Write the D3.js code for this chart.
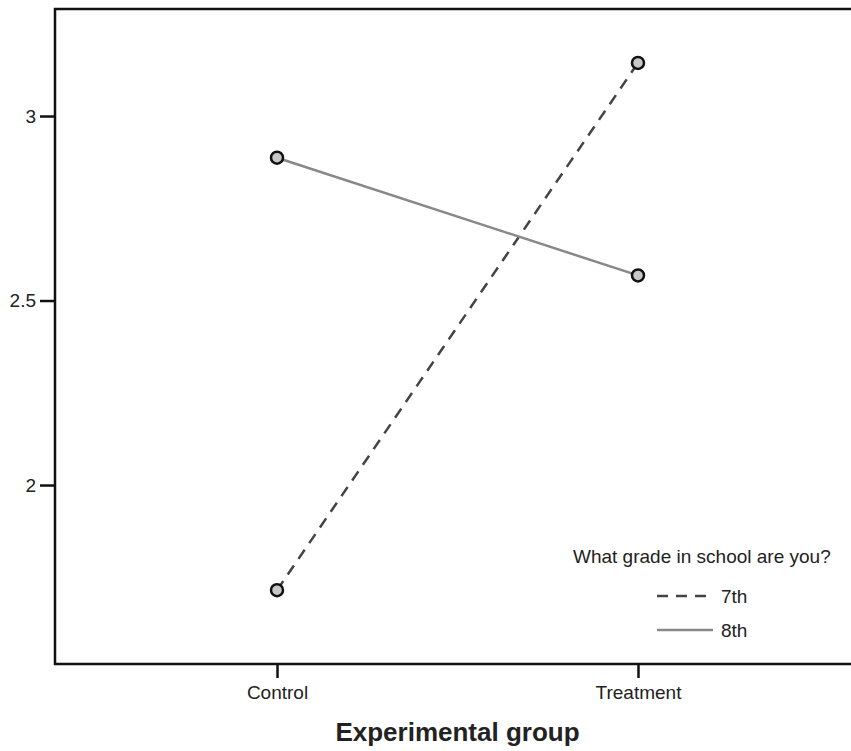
<!DOCTYPE html>
<html>
<head>
<meta charset="utf-8">
<script src="https://cdn.jsdelivr.net/npm/d3@7"></script>
<style>
  body { margin: 0; background: #fff; }
  text { font-family: "Liberation Sans", Arial, sans-serif; fill: #222; }
</style>
</head>
<body>
<script>
(function (d3) {
    "use strict";

    /***** Data *****/
    var groups = ["Control", "Treatment"];
    var grade7 = [1.715, 3.144];
    var grade8 = [2.887, 2.568];
    var seriesNames = ["7th", "8th"];
    var yTicks = [2, 2.5, 3];

    /***** Configuration *****/
    var width = 851, height = 751;
    var margin = { top: 9, right: -9, bottom: 87, left: 55 };
    var plotW = width - margin.left - margin.right;
    var plotH = height - margin.top - margin.bottom;

    var xScale = d3.scalePoint().domain(groups).range([0, plotW]).padding(0.615);
    var yScale = d3.scaleLinear().domain([1.515, 3.29]).range([plotH, 0]);

    var svg = d3.select("body").append("svg")
        .attr("width", width)
        .attr("height", height);

    var g = svg.append("g")
        .attr("transform", "translate(" + margin.left + "," + margin.top + ")");

    /***** Frame (top, left, bottom) *****/
    g.append("path")
        .attr("d", "M" + (plotW + 20) + ",0H0V" + plotH + "H" + (plotW + 20))
        .attr("fill", "none")
        .attr("stroke", "#111")
        .attr("stroke-width", 2.5);

    /***** Axes *****/
    var yAxis = d3.axisLeft(yScale).tickValues(yTicks).tickSize(15).tickPadding(4)
        .tickFormat(d3.format("~g"));
    var yg = g.append("g").call(yAxis);
    yg.select(".domain").remove();
    yg.selectAll(".tick line").attr("stroke", "#111").attr("stroke-width", 2.5);
    yg.selectAll(".tick text").style("font-size", "19px").attr("fill", "#222");

    var xAxis = d3.axisBottom(xScale).tickSize(14).tickPadding(8);
    var xg = g.append("g").attr("transform", "translate(0," + plotH + ")").call(xAxis);
    xg.select(".domain").remove();
    xg.selectAll(".tick line").attr("stroke", "#111").attr("stroke-width", 2.5);
    xg.selectAll(".tick text").style("font-size", "19px").attr("fill", "#222");

    g.append("text")
        .attr("x", (xScale("Control") + xScale("Treatment")) / 2)
        .attr("y", plotH + 77)
        .attr("text-anchor", "middle")
        .style("font-size", "26px")
        .style("font-weight", "bold")
        .text("Experimental group");

    /***** Lines *****/
    var series = [
        { name: seriesNames[0], values: grade7, color: "#444", dash: "11,8" },
        { name: seriesNames[1], values: grade8, color: "#888", dash: null }
    ];

    var line = d3.line()
        .x(function (d, i) { return xScale(groups[i]); })
        .y(function (d) { return yScale(d); });

    series.forEach(function (s) {
        g.append("path")
            .datum(s.values)
            .attr("d", line)
            .attr("fill", "none")
            .attr("stroke", s.color)
            .attr("stroke-width", 2.5)
            .attr("stroke-dasharray", s.dash);
    });

    series.forEach(function (s) {
        g.selectAll(null)
            .data(s.values)
            .enter().append("circle")
            .attr("cx", function (d, i) { return xScale(groups[i]); })
            .attr("cy", function (d) { return yScale(d); })
            .attr("r", 6)
            .attr("fill", "#c8c8c8")
            .attr("stroke", "#111")
            .attr("stroke-width", 2.5);
    });

    /***** Legend *****/
    var legend = svg.append("g");
    legend.append("text")
        .attr("x", 573).attr("y", 563)
        .style("font-size", "19px")
        .text("What grade in school are you?");

    series.forEach(function (s, i) {
        var ly = 596 + i * 34;
        legend.append("line")
            .attr("x1", 657).attr("x2", 713)
            .attr("y1", ly).attr("y2", ly)
            .attr("stroke", s.color)
            .attr("stroke-width", 2.5)
            .attr("stroke-dasharray", s.dash);
        legend.append("text")
            .attr("x", 721).attr("y", ly + 7)
            .style("font-size", "19px")
            .text(s.name);
    });

})(d3);
</script>
</body>
</html>
